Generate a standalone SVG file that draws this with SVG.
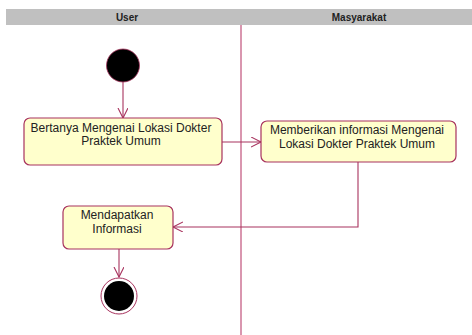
<svg xmlns="http://www.w3.org/2000/svg" width="472" height="335" viewBox="0 0 472 335">
  <style>
    .lane-title { font-family: "Liberation Sans", Arial, sans-serif; font-size: 10px; font-weight: bold; fill: #222; text-anchor: middle; }
    .action rect { fill: #FFFFCC; stroke: #A8335E; stroke-width: 1.2; }
    .action text { font-family: "Liberation Sans", Arial, sans-serif; font-size: 12px; fill: #222; text-anchor: middle; }
    .flow { fill: none; stroke: #A8335E; stroke-width: 1.1; }
  </style>
  <defs>
    <marker id="open-arrow" markerWidth="12" markerHeight="12" refX="10" refY="5" orient="auto" markerUnits="userSpaceOnUse">
      <path d="M0,0 L10,5 L0,10" fill="none" stroke="#A8335E" stroke-width="1.1"/>
    </marker>
  </defs>

  <rect width="472" height="335" fill="#FFFFFF"/>

  <!-- swimlane header and divider -->
  <g id="lanes">
    <rect x="6" y="9" width="466" height="16" fill="#C0C0C0"/>
    <text class="lane-title" x="127" y="21">User</text>
    <text class="lane-title" x="359" y="21">Masyarakat</text>
    <line x1="241" y1="25" x2="241" y2="335" stroke="#C0507A" stroke-width="1.2"/>
  </g>

  <!-- connectors -->
  <g id="connectors">
    <line class="flow" x1="123" y1="82" x2="123" y2="118" marker-end="url(#open-arrow)"/>
    <line class="flow" x1="222" y1="142" x2="261" y2="142" marker-end="url(#open-arrow)"/>
    <polyline class="flow" points="358,162 358,227 173,227" marker-end="url(#open-arrow)"/>
    <line class="flow" x1="119" y1="249" x2="119" y2="277" marker-end="url(#open-arrow)"/>
  </g>

  <g id="start">
    <circle cx="123" cy="65.5" r="16.5" fill="#000" stroke="#A8335E" stroke-width="0.8"/>
  </g>

  <g id="bertanya" class="action">
    <rect x="24" y="118" width="198" height="47" rx="6" ry="6"/>
    <text x="121" y="132">Bertanya Mengenai Lokasi Dokter</text>
    <text x="121" y="145">Praktek Umum</text>
  </g>

  <g id="memberikan" class="action">
    <rect x="261" y="121" width="195" height="41" rx="6" ry="6"/>
    <text x="357" y="134">Memberikan informasi Mengenai</text>
    <text x="357" y="148">Lokasi Dokter Praktek Umum</text>
  </g>

  <g id="mendapatkan" class="action">
    <rect x="63" y="206" width="110" height="43" rx="6" ry="6"/>
    <text x="117" y="219">Mendapatkan</text>
    <text x="117" y="233">Informasi</text>
  </g>

  <g id="end">
    <circle cx="119" cy="296" r="18" fill="#FFFFFF" stroke="#A8335E" stroke-width="1"/>
    <circle cx="119" cy="296" r="15" fill="#000"/>
  </g>
</svg>
